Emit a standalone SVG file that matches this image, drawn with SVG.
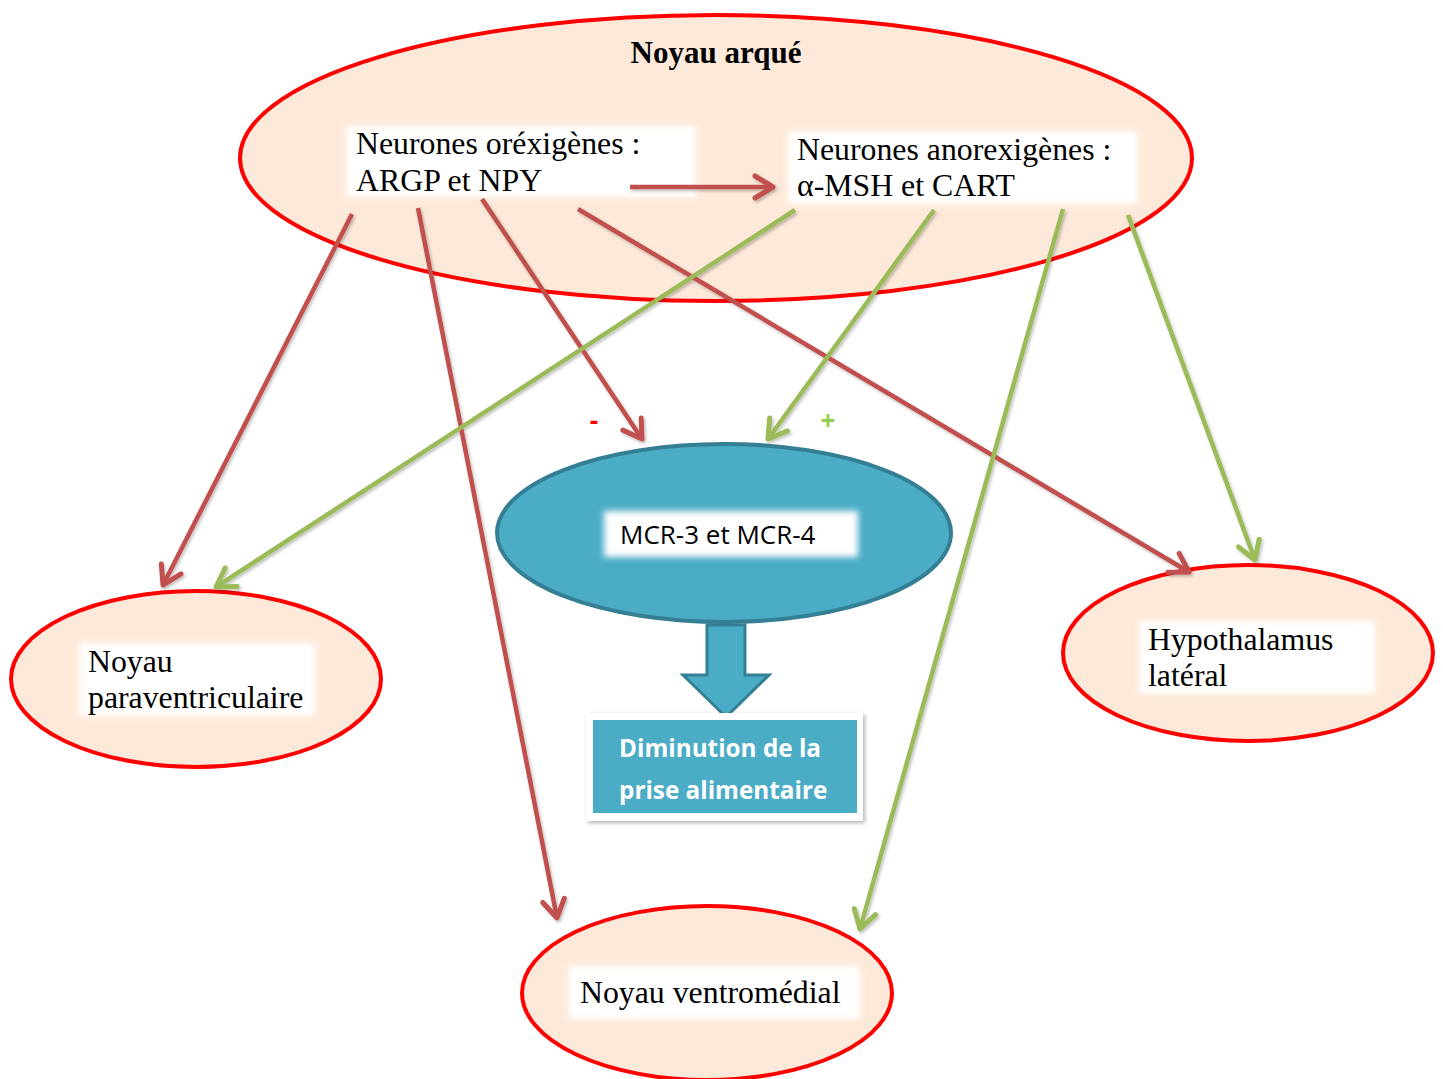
<svg xmlns="http://www.w3.org/2000/svg" width="1443" height="1079" viewBox="0 0 1443 1079">
<style>
.peach{fill:#FDE9D9;stroke:#FF0000;stroke-width:4}
.tbox{fill:#FFFFFF;filter:url(#soft)}
.serif{font-family:"Liberation Serif","Times New Roman",serif;font-size:31.8px;fill:#000}
.sans{font-family:"Open Sans","Liberation Sans",sans-serif}
.red{stroke:#C0504D;stroke-width:4.5;fill:none;marker-end:url(#ar)}
.green{stroke:#9BBB59;stroke-width:4.5;fill:none;marker-end:url(#ag)}
</style>
<defs>
<filter id="soft" x="-10%" y="-30%" width="120%" height="160%"><feGaussianBlur stdDeviation="3"/></filter>
<filter id="shadow" x="-10%" y="-10%" width="130%" height="130%"><feDropShadow dx="2" dy="2" stdDeviation="2" flood-color="#000" flood-opacity="0.3"/></filter>
<filter id="lshadow" x="-20%" y="-20%" width="140%" height="140%"><feDropShadow dx="1.5" dy="2" stdDeviation="1.5" flood-color="#000" flood-opacity="0.25"/></filter>
<marker id="ar" markerUnits="userSpaceOnUse" viewBox="-22 -14 26 28" markerWidth="26" markerHeight="28" refX="0" refY="0" orient="auto">
<path d="M-18,-11 L0,0 L-18,11" fill="none" stroke="#C0504D" stroke-width="5" stroke-linecap="round" stroke-linejoin="round"/>
</marker>
<marker id="ag" markerUnits="userSpaceOnUse" viewBox="-22 -14 26 28" markerWidth="26" markerHeight="28" refX="0" refY="0" orient="auto">
<path d="M-18,-11 L0,0 L-18,11" fill="none" stroke="#9BBB59" stroke-width="5" stroke-linecap="round" stroke-linejoin="round"/>
</marker>
</defs>
<rect width="1443" height="1079" fill="#FFFFFF"/>

<g id="noyau-arque">
<ellipse class="peach" cx="716" cy="158" rx="476" ry="143"/>
<text x="716" y="63" text-anchor="middle" class="serif" font-weight="bold" style="font-size:31px">Noyau arqué</text>
</g>

<g id="neurones-orexigenes">
<rect class="tbox" x="346" y="126" width="350" height="71"/>
<text class="serif" x="356" y="154">Neurones oréxigènes :</text>
<text class="serif" x="356" y="191">ARGP et NPY</text>
</g>

<g id="neurones-anorexigenes">
<rect class="tbox" x="788" y="131" width="350" height="73"/>
<text class="serif" x="797" y="160">Neurones anorexigènes :</text>
<text class="serif" x="797" y="196">α-MSH et CART</text>
</g>

<g id="mcr">
<ellipse cx="724" cy="533" rx="227" ry="89" fill="#4BACC6" stroke="#357F94" stroke-width="4"/>
<rect class="tbox" x="604" y="511" width="254" height="46"/>
<text class="sans" x="620" y="544" font-size="26" fill="#000">MCR-3 et MCR-4</text>
</g>

<g id="block-arrow">
<path d="M707,625 L745,625 L745,675 L769,675 L726,717 L683,675 L707,675 Z" fill="#4BACC6" stroke="#357F94" stroke-width="3" stroke-linejoin="miter"/>
</g>

<g id="diminution">
<rect x="586" y="713" width="277" height="108" fill="#FFFFFF" filter="url(#shadow)"/>
<rect x="593" y="720" width="264" height="93" fill="#4BACC6"/>
<text class="sans" x="619" y="757" font-size="24.3" font-weight="bold" fill="#FFFFFF">Diminution de la</text>
<text class="sans" x="619" y="799" font-size="24.3" font-weight="bold" fill="#FFFFFF">prise alimentaire</text>
</g>

<g id="noyau-paraventriculaire">
<ellipse class="peach" cx="196" cy="679" rx="185" ry="88"/>
<rect class="tbox" x="79" y="643" width="236" height="73"/>
<text class="serif" x="88" y="672">Noyau</text>
<text class="serif" x="88" y="708">paraventriculaire</text>
</g>

<g id="hypothalamus-lateral">
<ellipse class="peach" cx="1248" cy="653" rx="185" ry="88"/>
<rect class="tbox" x="1139" y="621" width="236" height="73"/>
<text class="serif" x="1148" y="650">Hypothalamus</text>
<text class="serif" x="1148" y="686">latéral</text>
</g>

<g id="noyau-ventromedial">
<ellipse class="peach" cx="707" cy="993" rx="185" ry="87"/>
<rect class="tbox" x="569" y="966" width="291" height="53"/>
<text class="serif" x="580" y="1003">Noyau ventromédial</text>
</g>

<g id="connectors" filter="url(#lshadow)">
<line class="red" x1="630" y1="187" x2="773" y2="187"/>
<line class="red" x1="352" y1="214" x2="163" y2="585"/>
<line class="red" x1="418" y1="208" x2="557" y2="918"/>
<line class="red" x1="482" y1="199" x2="642" y2="439"/>
<line class="red" x1="578" y1="209" x2="1189" y2="572"/>
<line class="green" x1="795" y1="210" x2="216" y2="587"/>
<line class="green" x1="934" y1="210" x2="768" y2="439"/>
<line class="green" x1="1063" y1="209" x2="860" y2="929"/>
<line class="green" x1="1128" y1="215" x2="1255" y2="560"/>
</g>

<g id="signs">
<text class="sans" x="594" y="430" font-size="26" font-weight="bold" fill="#FF0000" text-anchor="middle">-</text>
<text class="sans" x="828" y="430" font-size="26" font-weight="bold" fill="#92D050" text-anchor="middle">+</text>
</g>
</svg>
